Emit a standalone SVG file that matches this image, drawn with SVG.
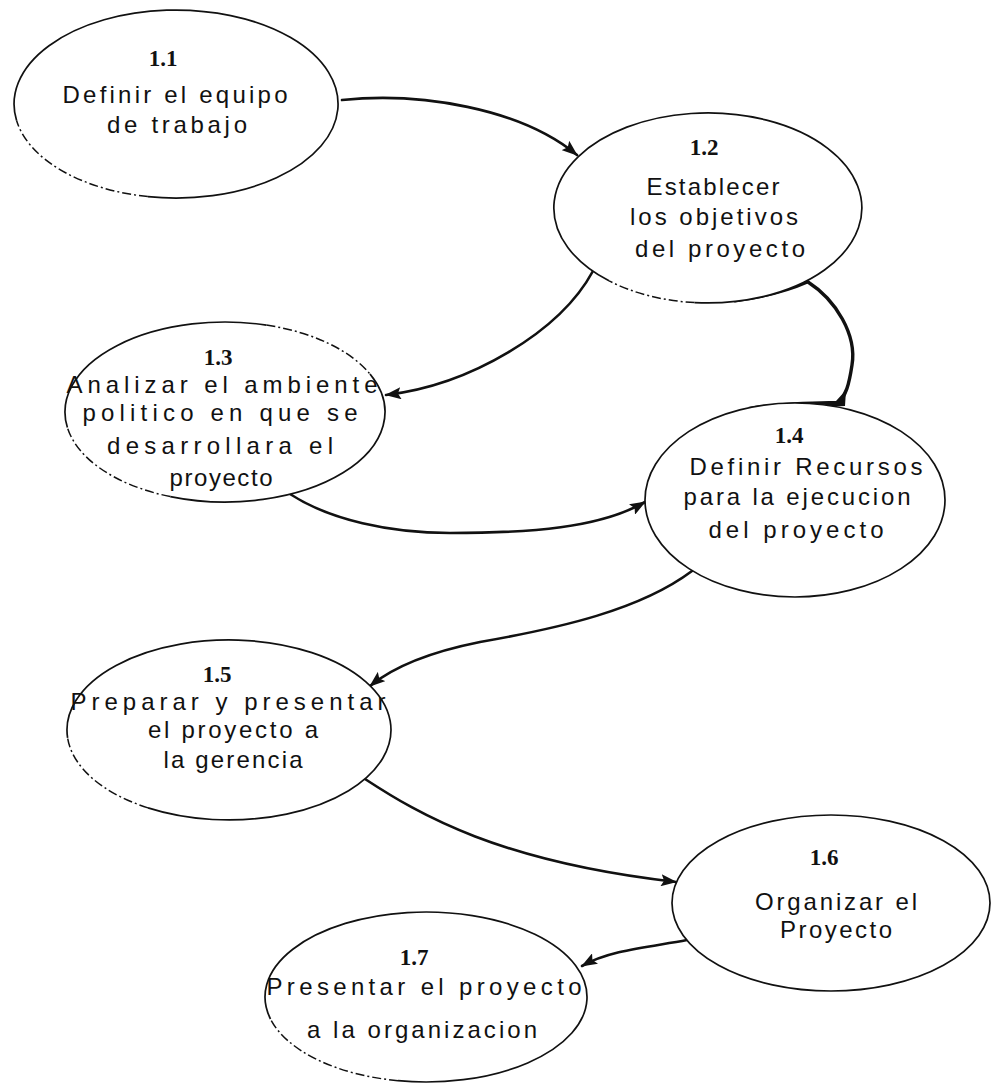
<svg xmlns="http://www.w3.org/2000/svg" width="993" height="1091" viewBox="0 0 993 1091">
  <style>
    .bg { fill: #ffffff; stroke: none; }
    .edge { fill: none; stroke: #111; stroke-width: 1.7; }
    .dash { fill: none; stroke: #111; stroke-width: 1.5; stroke-dasharray: 9 3 2 3; }
    .num { font-family: "Liberation Serif", "Times New Roman", serif; font-weight: bold; font-size: 23px; fill: #111; text-anchor: middle; }
    .lbl { font-family: "Liberation Sans", Arial, sans-serif; font-size: 24px; fill: #111; text-anchor: middle; }
    .conn { fill: none; stroke: #111; stroke-width: 2.6; stroke-linecap: round; }
  </style>
  <defs>
    <marker id="arrow" viewBox="0 0 16 12" refX="15" refY="6" markerWidth="16" markerHeight="12" markerUnits="userSpaceOnUse" orient="auto">
      <path d="M0,0 L16,6 L0,12 L3,6 Z" fill="#111"/>
    </marker>
  </defs>
  <rect width="993" height="1091" fill="#ffffff"/>

  <!-- connectors -->
  <g id="connectors">
    <path class="conn" d="M342,100 C 420,92 520,108 577,155" marker-end="url(#arrow)"/>
    <path class="conn" d="M593,271 C 560,332 470,385 386,395" marker-end="url(#arrow)"/>
    <path class="conn" d="M290,494 C 330,520 390,533 450,533 C 530,533 600,528 645,502" marker-end="url(#arrow)"/>
    <path class="conn" d="M692,571 C 640,610 560,628 480,642 C 430,652 392,668 370,686" marker-end="url(#arrow)"/>
    <path class="conn" d="M365,779 C 420,815 500,862 676,882" marker-end="url(#arrow)"/>
    <path class="conn" d="M687,940 C 650,947 610,950 582,966" marker-end="url(#arrow)"/>
    <!-- heavy link between 1.2 and 1.4 -->
    <path class="conn" style="stroke-width:3.4" d="M808,282 C 836,300 857,335 852,365 C 849,385 846,395 838,404"/>
    <path class="conn" style="stroke-width:2.8" d="M735,301 C 765,297 790,290 808,282"/>
    <path fill="#111" d="M748,407 C 780,402 815,401 836,401 L 846,390 L 845,406 C 815,408 780,408 748,407 Z"/>
  </g>

  <!-- 1.1 -->
  <g id="node-1-1">
    <ellipse class="bg" cx="176" cy="104" rx="162" ry="94"/>
    <path class="edge" d="M16.5,120.3 A162,94 0 1 1 147.9,196.6"/>
    <path class="dash" d="M147.9,196.6 A162,94 0 0 1 16.5,120.3"/>
    <text class="num" x="163" y="66">1.1</text>
    <text class="lbl" x="175" y="103" textLength="225" lengthAdjust="spacing">Definir el equipo</text>
    <text class="lbl" x="177" y="133" textLength="140" lengthAdjust="spacing">de trabajo</text>
  </g>

  <!-- 1.2 -->
  <g id="node-1-2">
    <ellipse class="bg" cx="708" cy="208" rx="154" ry="95"/>
    <path class="edge" d="M609.0,280.8 A154,95 0 1 1 694.6,302.6"/>
    <path class="dash" d="M694.6,302.6 A154,95 0 0 1 609.0,280.8"/>
    <text class="num" x="704" y="155">1.2</text>
    <text class="lbl" x="713" y="195" textLength="133" lengthAdjust="spacing">Establecer</text>
    <text class="lbl" x="714" y="225" textLength="168" lengthAdjust="spacing">los objetivos</text>
    <text class="lbl" x="720" y="257" textLength="170" lengthAdjust="spacing">del proyecto</text>
  </g>

  <!-- 1.3 -->
  <g id="node-1-3">
    <ellipse class="bg" cx="225" cy="412" rx="160" ry="90"/>
    <path class="edge" d="M370.0,374.0 A160,90 0 0 1 170.3,496.6"/>
    <path class="dash" d="M170.3,496.6 A160,90 0 0 1 67.4,427.6"/>
    <path class="edge" d="M67.4,427.6 A160,90 0 0 1 266.4,325.1"/>
    <path class="dash" d="M266.4,325.1 A160,90 0 0 1 370.0,374.0"/>
    <text class="num" x="218" y="365">1.3</text>
    <text class="lbl" x="222" y="393" textLength="311" lengthAdjust="spacing">Analizar el ambiente</text>
    <text class="lbl" x="220" y="421" textLength="275" lengthAdjust="spacing">politico en que se</text>
    <text class="lbl" x="220" y="454" textLength="226" lengthAdjust="spacing">desarrollara el</text>
    <text class="lbl" x="221" y="486" textLength="103" lengthAdjust="spacing">proyecto</text>
  </g>

  <!-- 1.4 -->
  <g id="node-1-4">
    <ellipse class="bg" cx="795" cy="500" rx="150" ry="97"/>
    <ellipse class="edge" cx="795" cy="500" rx="150" ry="97"/>
    <text class="num" x="789" y="443">1.4</text>
    <text class="lbl" x="806" y="475" textLength="233" lengthAdjust="spacing">Definir Recursos</text>
    <text class="lbl" x="797" y="505" textLength="227" lengthAdjust="spacing">para la ejecucion</text>
    <text class="lbl" x="796" y="538" textLength="175" lengthAdjust="spacing">del proyecto</text>
  </g>

  <!-- 1.5 -->
  <g id="node-1-5">
    <ellipse class="bg" cx="229" cy="730" rx="162" ry="90"/>
    <path class="edge" d="M67.6,737.8 A162,90 0 1 1 148,807.9"/>
    <path class="dash" d="M148,807.9 A162,90 0 0 1 67.6,737.8"/>
    <text class="num" x="217" y="682">1.5</text>
    <text class="lbl" x="228" y="710" textLength="315" lengthAdjust="spacing">Preparar y presentar</text>
    <text class="lbl" x="233" y="738" textLength="170" lengthAdjust="spacing">el proyecto a</text>
    <text class="lbl" x="233" y="768" textLength="139" lengthAdjust="spacing">la gerencia</text>
  </g>

  <!-- 1.6 -->
  <g id="node-1-6">
    <ellipse class="bg" cx="831" cy="903" rx="159" ry="88"/>
    <ellipse class="edge" cx="831" cy="903" rx="159" ry="88"/>
    <text class="num" x="824" y="865">1.6</text>
    <text class="lbl" x="836" y="910" textLength="162" lengthAdjust="spacing">Organizar el</text>
    <text class="lbl" x="836" y="938" textLength="112" lengthAdjust="spacing">Proyecto</text>
  </g>

  <!-- 1.7 -->
  <g id="node-1-7">
    <ellipse class="bg" cx="426" cy="997" rx="161" ry="85"/>
    <path class="edge" d="M270.5,1019.0 A161,85 0 1 1 398.0,1080.7"/>
    <path class="dash" d="M398.0,1080.7 A161,85 0 0 1 270.5,1019.0"/>
    <text class="num" x="414" y="965">1.7</text>
    <text class="lbl" x="424" y="995" textLength="315" lengthAdjust="spacing">Presentar el proyecto</text>
    <text class="lbl" x="422" y="1038" textLength="230" lengthAdjust="spacing">a la organizacion</text>
  </g>
</svg>
